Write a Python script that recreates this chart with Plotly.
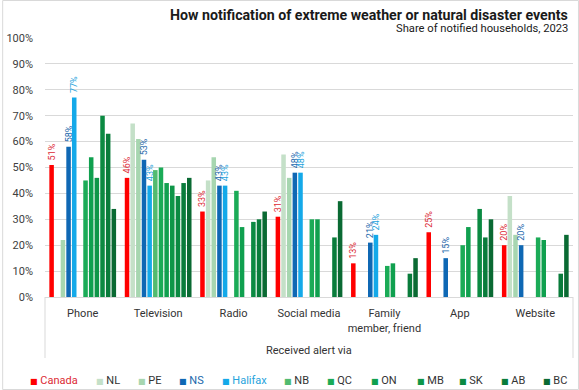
import plotly.graph_objects as go

categories = ["Phone", "Television", "Radio", "Social media", "Family<br>member, friend", "App", "Website"]

series_names = ["Canada", "NL", "PE", "NS", "Halifax", "NB", "QC", "ON", "MB", "SK", "AB", "BC"]

canada = [51, 46, 33, 31, 13, 25, 20]
nl = [None, 67, 45, 55, None, None, 39]
pe = [22, 61, 54, 46, None, None, 24]
ns = [58, 53, 43, 48, 21, 15, 20]
halifax = [77, 43, 43, 48, 24, None, None]
nb = [None, 49, None, None, None, None, None]
qc = [45, 50, 41, 30, 12, 20, 23]
on = [54, 44, 27, 30, 13, 27, 22]
mb = [46, 43, None, None, None, None, None]
sk = [70, 39, 29, None, None, 34, None]
ab = [63, 44, 30, 23, 9, 23, 9]
bc = [34, 46, 33, 37, 15, 30, 24]

series_values = [canada, nl, pe, ns, halifax, nb, qc, on, mb, sk, ab, bc]

y_ticks = list(range(0, 101, 10))

# styles
bar_colors = ["#ff0000", "#c4e0c8", "#a7d6b0", "#0f68b4", "#14a9e9", "#52bb70",
              "#1bab57", "#10a04f", "#0e9648", "#0b8a42", "#097c3b", "#0a6a33"]
labelled = {"Canada": "#dc2a34", "NS": "#2268ab", "Halifax": "#26a3dc"}
legend_px = [27, 93, 135, 177, 220, 282, 325, 369, 415, 458, 500, 542]

FONT = "Roboto, DejaVu Sans, sans-serif"
L, R, T, B = 43, 6, 38, 93
W, H = 579, 390
PW, PH = W - L - R, H - T - B


def px_x(px):
    return (px - L) / PW


def px_y(py):
    return (T + PH - py) / PH


fig = go.Figure()
for name, vals, col in zip(series_names, series_values, bar_colors):
    kw = {}
    if name in labelled:
        kw = dict(
            text=["\u00a0\u00a0%d%%" % v if v is not None else "" for v in vals],
            textposition="outside",
            textangle=-90,
            constraintext="none",
            cliponaxis=False,
            textfont=dict(family=FONT, size=9, color=labelled[name]),
        )
    fig.add_trace(go.Bar(x=categories, y=vals, name=name, marker_color=col,
                         marker_line_width=0, showlegend=False, **kw))

annotations = [
    dict(text="<b>How notification of extreme weather or natural disaster events</b>",
         x=px_x(570), y=px_y(15), xref="paper", yref="paper", xanchor="right", yanchor="middle",
         showarrow=False, font=dict(family=FONT, size=14.2, color="#1a1a1a")),
    dict(text="Share of notified households, 2023",
         x=px_x(570), y=px_y(28), xref="paper", yref="paper", xanchor="right", yanchor="middle",
         showarrow=False, font=dict(family=FONT, size=11.2, color="#1a1a1a")),
    dict(text="Received alert via", x=0.5, y=px_y(350), xref="paper", yref="paper",
         xanchor="center", yanchor="middle", showarrow=False,
         font=dict(family=FONT, size=11, color="#333333")),
]
for name, col, pxl in zip(series_names, bar_colors, legend_px):
    tcol = labelled.get(name, "#333333")
    annotations.append(dict(
        text="<span style='color:%s;font-size:8px'>■</span> <span style='color:%s'>%s</span>" % (col, tcol, name),
        x=px_x(pxl - 1), y=px_y(380), xref="paper", yref="paper", xanchor="left", yanchor="middle",
        showarrow=False, font=dict(family=FONT, size=11, color=tcol)))

shapes = [
    dict(type="line", xref="paper", yref="paper", x0=0, x1=0, y0=0, y1=px_y(358),
         line=dict(color="#d9d9d9", width=1)),
    dict(type="line", xref="paper", yref="paper", x0=1, x1=1, y0=0, y1=px_y(358),
         line=dict(color="#d9d9d9", width=1)),
    dict(type="rect", xref="paper", yref="paper", x0=px_x(0.5), x1=px_x(578.5),
         y0=px_y(389.5), y1=px_y(0.5), line=dict(color="#d9d9d9", width=1)),
]

fig.update_layout(
    width=W, height=H,
    margin=dict(l=L, r=R, t=T, b=B, pad=0),
    paper_bgcolor="white", plot_bgcolor="white",
    barmode="group", bargap=0.1, bargroupgap=0.2,
    font=dict(family=FONT, size=11, color="#404040"),
    annotations=annotations, shapes=shapes,
    showlegend=False,
)
fig.update_xaxes(type="category", showgrid=False, ticks="", ticklabelstandoff=6,
                 showline=True, linecolor="#d9d9d9", linewidth=1,
                 tickfont=dict(family=FONT, size=11, color="#333333"))
fig.update_yaxes(range=[0, 100], tickvals=y_ticks, ticktext=["%d%%" % v for v in y_ticks],
                 showgrid=True, gridcolor="#d9d9d9", gridwidth=1, zeroline=False,
                 ticks="", ticklabelstandoff=11,
                 tickfont=dict(family=FONT, size=11, color="#404040"))

fig.write_html("out.html", config={"displayModeBar": False},
               post_script="document.body.style.margin='0';document.body.style.overflow='hidden';")
